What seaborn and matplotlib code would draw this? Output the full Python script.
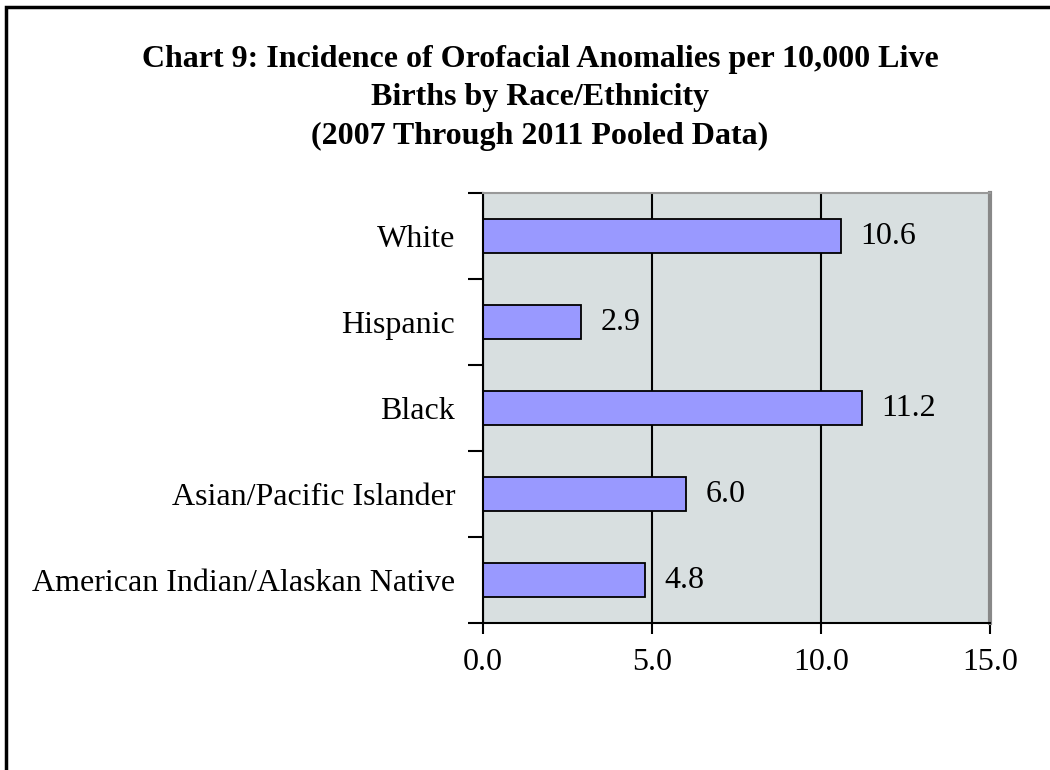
import numpy as np
import matplotlib.pyplot as plt
import matplotlib.patches as mpatches
import pandas as pd
import seaborn as sns

# chart values
groups = ['White', 'Hispanic', 'Black', 'Asian/Pacific Islander',
          'American Indian/Alaskan Native']
rates = [10.6, 2.9, 11.2, 6.0, 4.8]
xticks = [0, 5, 10, 15]

sns.set_style('white')
plt.rcParams['font.family'] = ['Liberation Serif', 'DejaVu Serif']
plt.rcParams['text.color'] = 'black'
plt.rcParams['xtick.color'] = 'black'
plt.rcParams['ytick.color'] = 'black'

df = pd.DataFrame({'group': groups, 'rate': rates})

fig = plt.figure(figsize=(10.5, 7.7), dpi=100)
ax = fig.add_axes([483/1050, 1 - 623/770, 507/1050, 430/770])
ax.set_facecolor('#D8DFE0')

ax.set_axisbelow(True)
ax.grid(axis='x', color='black', linewidth=1.5)

sns.barplot(data=df, x='rate', y='group', orient='h', color='#9999FF',
            saturation=1, edgecolor='black', linewidth=1.3, width=0.4, ax=ax)

ax.set_xlim(0, 15)
ax.set_ylim(4.5, -0.5)
ax.set_xticks(xticks)
ax.set_xticklabels([f'{v:.1f}' for v in xticks])
ax.set_yticks(range(len(groups)))
ax.set_yticklabels(groups)
ax.set_yticks(np.arange(-0.5, len(groups), 1), minor=True)
ax.tick_params(axis='y', which='major', length=0, pad=20, labelsize=23,
               labelcolor='black')
ax.tick_params(axis='y', which='minor', length=11, width=1.5, color='black', left=True)
ax.tick_params(axis='x', length=8, width=1.5, color='black', bottom=True,
               pad=10, labelsize=23, labelcolor='black')
ax.set_xlabel('')
ax.set_ylabel('')

for side in ['left', 'bottom']:
    ax.spines[side].set_color('black')
    ax.spines[side].set_linewidth(1.5)
ax.spines['top'].set_color('#999999')
ax.spines['top'].set_linewidth(1.5)
ax.spines['right'].set_color('#888888')
ax.spines['right'].set_linewidth(3)

ax.bar_label(ax.containers[0], fmt='%.1f', padding=14, fontsize=23,
             color='black')

fig.text(540/1050, 1 - 98/770,
         'Chart 9: Incidence of Orofacial Anomalies per 10,000 Live\n'
         'Births by Race/Ethnicity\n(2007 Through 2011 Pooled Data)',
         ha='center', va='center', fontsize=23, fontweight='bold',
         linespacing=1.42, color='black')

# outer chart border (right and bottom edges fall outside the image)
fig.patches.append(mpatches.Rectangle((6/1050, -0.1), 2, 1 - 7/770 + 0.1,
                                      transform=fig.transFigure, fill=False,
                                      edgecolor='black', linewidth=2.5))

fig.savefig('out.png', dpi=100)
